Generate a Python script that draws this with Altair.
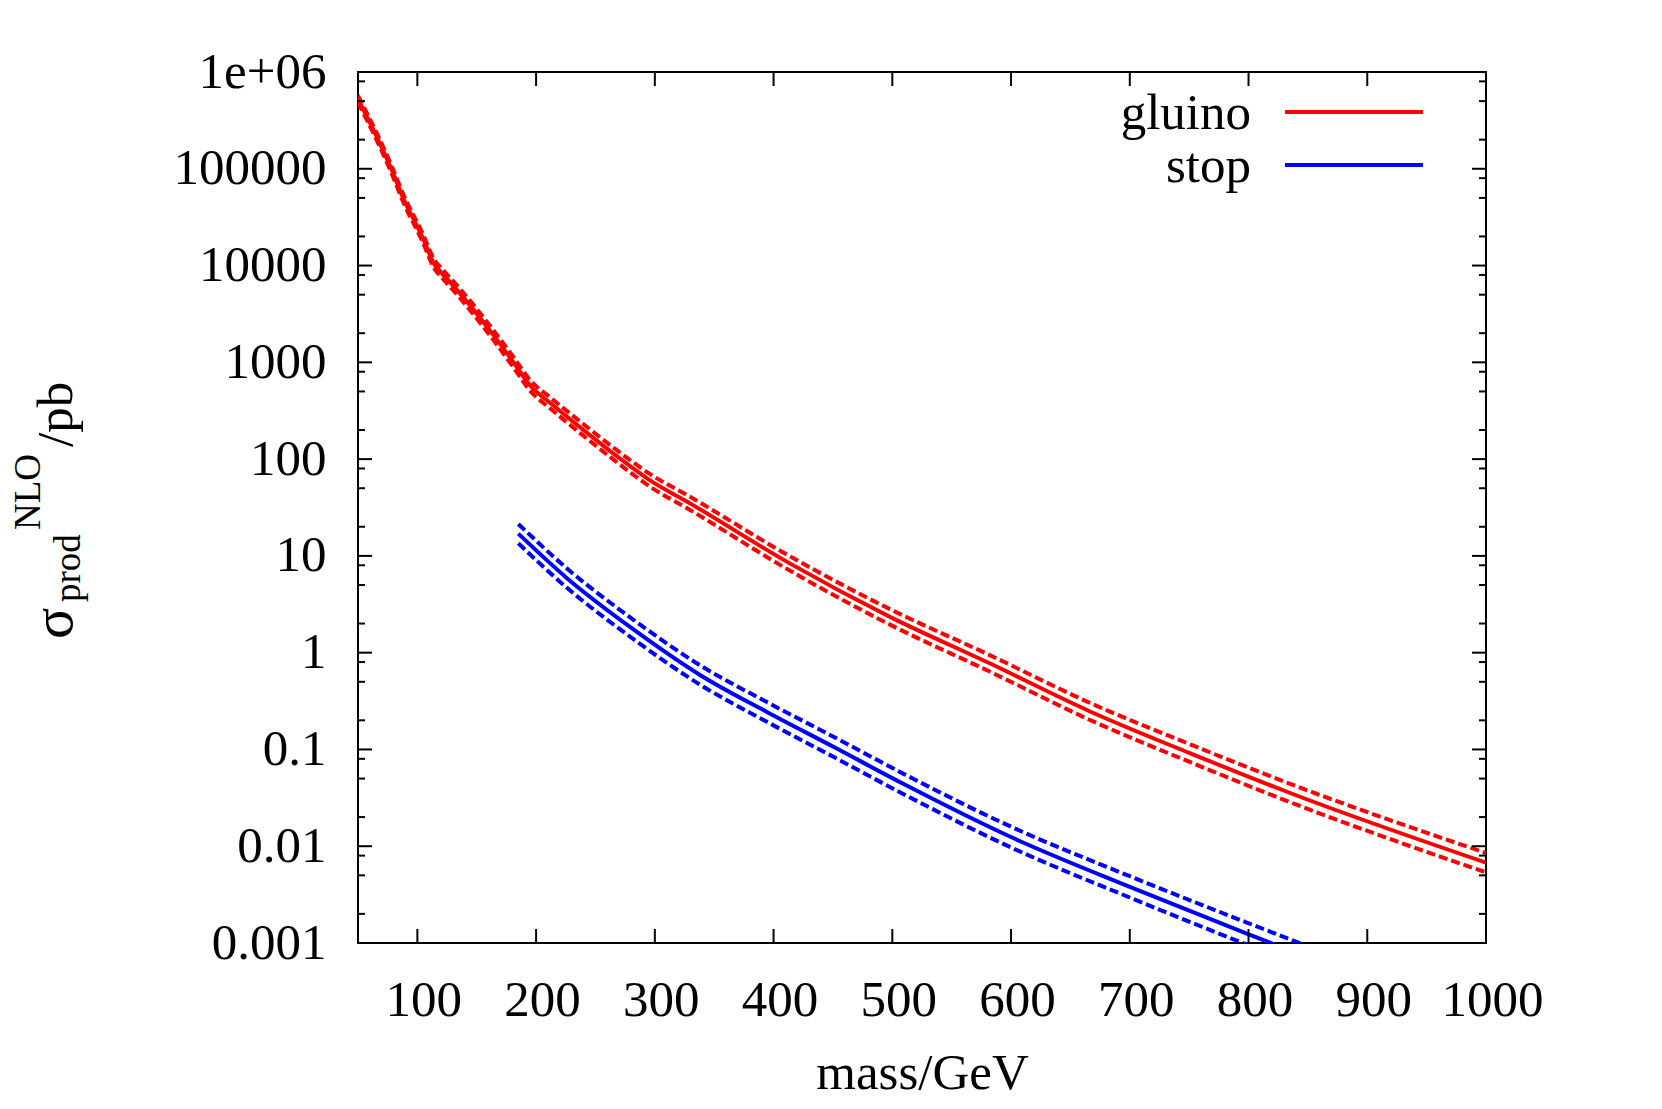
import altair as alt
import pandas as pd

FONT = "Liberation Serif"
PLOT_W, PLOT_H = 1128, 871

SERIES = ["gluino", "stop"]
COLORS = ["#ff0000", "#0000ff"]

# gluino pair production (log10 of sigma / pb), central and scale-variation band
GLUINO_MASS = [50, 67, 78, 88, 104, 115, 120, 136, 161, 181, 195, 212, 240, 268,
               296, 330, 414, 498, 582, 667, 751, 835, 1000]
GLUINO_LOG10 = [5.72, 5.30, 5.00, 4.70, 4.30, 4.00, 3.93, 3.71, 3.33, 3.00, 2.76,
                2.58, 2.30, 2.03, 1.78, 1.54, 0.92, 0.37, -0.11, -0.61, -1.04,
                -1.45, -2.17]
GLUINO_LOG10_UP = [5.755, 5.337, 5.038, 4.74, 4.343, 4.045, 3.975, 3.758, 3.38,
                   3.053, 2.815, 2.637, 2.36, 2.092, 1.845, 1.608, 0.994, 0.45,
                   -0.025, -0.522, -0.948, -1.355, -2.07]
GLUINO_LOG10_LOW = [5.685, 5.263, 4.962, 4.66, 4.257, 3.955, 3.885, 3.662, 3.28,
                    2.947, 2.705, 2.523, 2.24, 1.968, 1.715, 1.472, 0.846, 0.29,
                    -0.195, -0.698, -1.132, -1.545, -2.27]

# stop pair production
STOP_MASS = [185, 226, 282, 338, 394, 450, 510, 599, 700, 798, 850]
STOP_LOG10 = [1.23, 0.77, 0.24, -0.23, -0.61, -0.97, -1.36, -1.90, -2.42, -2.90, -3.15]
STOP_LOG10_UP = [1.33, 0.87, 0.34, -0.13, -0.508, -0.866, -1.255, -1.793, -2.31,
                 -2.786, -3.035]
STOP_LOG10_LOW = [1.13, 0.67, 0.14, -0.33, -0.712, -1.074, -1.465, -2.007, -2.53,
                  -3.014, -3.265]

X_TICKS = [100, 200, 300, 400, 500, 600, 700, 800, 900, 1000]
Y_TICKS = [1e-3, 1e-2, 1e-1, 1, 10, 100, 1e3, 1e4, 1e5, 1e6]
Y_LABELS = ["0.001", "0.01", "0.1", "1", "10", "100", "1000", "10000", "100000", "1e+06"]
Y_MINOR = [m * 10.0 ** e for e in range(-3, 6) for m in (2, 5, 8)]

Y_TITLE_PARTS = ["σ", "prod", "NLO", "/pb"]


def curve(mass, logs, series, kind):
    return pd.DataFrame({
        "mass": mass,
        "sigma": [10.0 ** v for v in logs],
        "series": series,
        "kind": kind,
        "line": f"{series}-{kind}",
    })


curves = pd.concat([
    curve(GLUINO_MASS, GLUINO_LOG10, "gluino", "central"),
    curve(GLUINO_MASS, GLUINO_LOG10_UP, "gluino", "up"),
    curve(GLUINO_MASS, GLUINO_LOG10_LOW, "gluino", "low"),
    curve(STOP_MASS, STOP_LOG10, "stop", "central"),
    curve(STOP_MASS, STOP_LOG10_UP, "stop", "up"),
    curve(STOP_MASS, STOP_LOG10_LOW, "stop", "low"),
], ignore_index=True)

x_scale = alt.Scale(domain=[50, 1000], nice=False, zero=False)
y_scale = alt.Scale(type="log", domain=[1e-3, 1e6], nice=False)
color_scale = alt.Scale(domain=SERIES, range=COLORS)

label_expr = "[" + ",".join(f"'{l}'" for l in Y_LABELS) + "][round(log(datum.value)/LN10)+3]"

x_axis = alt.Axis(values=X_TICKS, format="d", title="mass/GeV", labelFont=FONT,
                  labelFontSize=51, labelColor="black", labelPadding=72,
                  labelBaseline="alphabetic", labelOffset=6, labelFlush=False,
                  labelOverlap=False, ticks=False, tickSize=0, domain=False,
                  grid=False, titleFont=FONT, titleFontSize=51,
                  titleFontWeight="normal", titleColor="black", titleY=145,
                  titleBaseline="alphabetic")
y_axis = alt.Axis(values=Y_TICKS, title="", labelExpr=label_expr, labelFont=FONT,
                  labelFontSize=51, labelColor="black", labelPadding=32,
                  labelBaseline="middle", labelOverlap=False, ticks=False, tickSize=0,
                  domain=False, grid=False)

X_ENC = alt.X("mass:Q", scale=x_scale, axis=x_axis, title="mass/GeV")
Y_ENC = alt.Y("sigma:Q", scale=y_scale, axis=y_axis, title="")

base = alt.Chart(curves)
solid = base.transform_filter("datum.kind == 'central'").mark_line(
    strokeWidth=4, clip=True, interpolate="monotone"
).encode(
    x=X_ENC, y=Y_ENC,
    color=alt.Color("series:N", scale=color_scale, legend=None),
    detail="line:N",
)
dashed = base.transform_filter("datum.kind != 'central'").mark_line(
    strokeWidth=4, strokeDash=[9, 4], clip=True, interpolate="monotone"
).encode(
    x=X_ENC, y=Y_ENC,
    color=alt.Color("series:N", scale=color_scale, legend=None),
    detail="line:N",
)


def y_ticks(values, x0, x1):
    return alt.Chart(pd.DataFrame({"sigma": values})).mark_rule(
        color="black", strokeWidth=2
    ).encode(y=Y_ENC, x=alt.value(x0), x2=alt.value(x1))


def x_ticks(values, y0, y1):
    return alt.Chart(pd.DataFrame({"mass": values})).mark_rule(
        color="black", strokeWidth=2
    ).encode(x=X_ENC, y=alt.value(y0), y2=alt.value(y1))


MAJ, MIN = 14, 7
tick_layers = [
    y_ticks(Y_TICKS, 0, MAJ), y_ticks(Y_TICKS, PLOT_W - MAJ, PLOT_W),
    y_ticks(Y_MINOR, 0, MIN), y_ticks(Y_MINOR, PLOT_W - MIN, PLOT_W),
    x_ticks(X_TICKS, PLOT_H - MAJ, PLOT_H), x_ticks(X_TICKS, 0, MAJ),
]


def text_piece(text, size, x, y, **kw):
    return alt.Chart(pd.DataFrame({"t": [text]})).mark_text(
        font=FONT, fontSize=size, color="black", **kw
    ).encode(text="t:N", x=alt.value(x), y=alt.value(y))


# y-axis title sigma_prod^NLO/pb, rotated
title_layers = [
    text_piece(Y_TITLE_PARTS[0], 58, -286, 567, angle=270, align="left", baseline="alphabetic"),
    text_piece(Y_TITLE_PARTS[1], 37, -278, 530, angle=270, align="left", baseline="alphabetic"),
    text_piece(Y_TITLE_PARTS[2], 37, -318, 458, angle=270, align="left", baseline="alphabetic"),
    text_piece(Y_TITLE_PARTS[3], 51, -286, 375, angle=270, align="left", baseline="alphabetic"),
]

# key, top right
LEGEND_Y = [40, 93]
legend_layers = []
for name, colour, ly in zip(SERIES, COLORS, LEGEND_Y):
    legend_layers.append(text_piece(name, 51, 893, ly + 2, align="right", baseline="middle"))
    legend_layers.append(
        alt.Chart(pd.DataFrame({"series": [name]})).mark_rule(
            color=colour, strokeWidth=4
        ).encode(x=alt.value(927), x2=alt.value(1065), y=alt.value(ly))
    )

chart = alt.layer(
    solid, dashed, *tick_layers, *title_layers, *legend_layers
).properties(
    width=PLOT_W, height=PLOT_H,
    autosize=alt.AutoSizeParams(type="none"),
    padding={"left": 350, "top": 64, "right": 150, "bottom": 158},
    background="white",
).configure_view(
    stroke="black", strokeWidth=2
)

chart.save("out.html", embed_options={"renderer": "svg", "actions": False})
